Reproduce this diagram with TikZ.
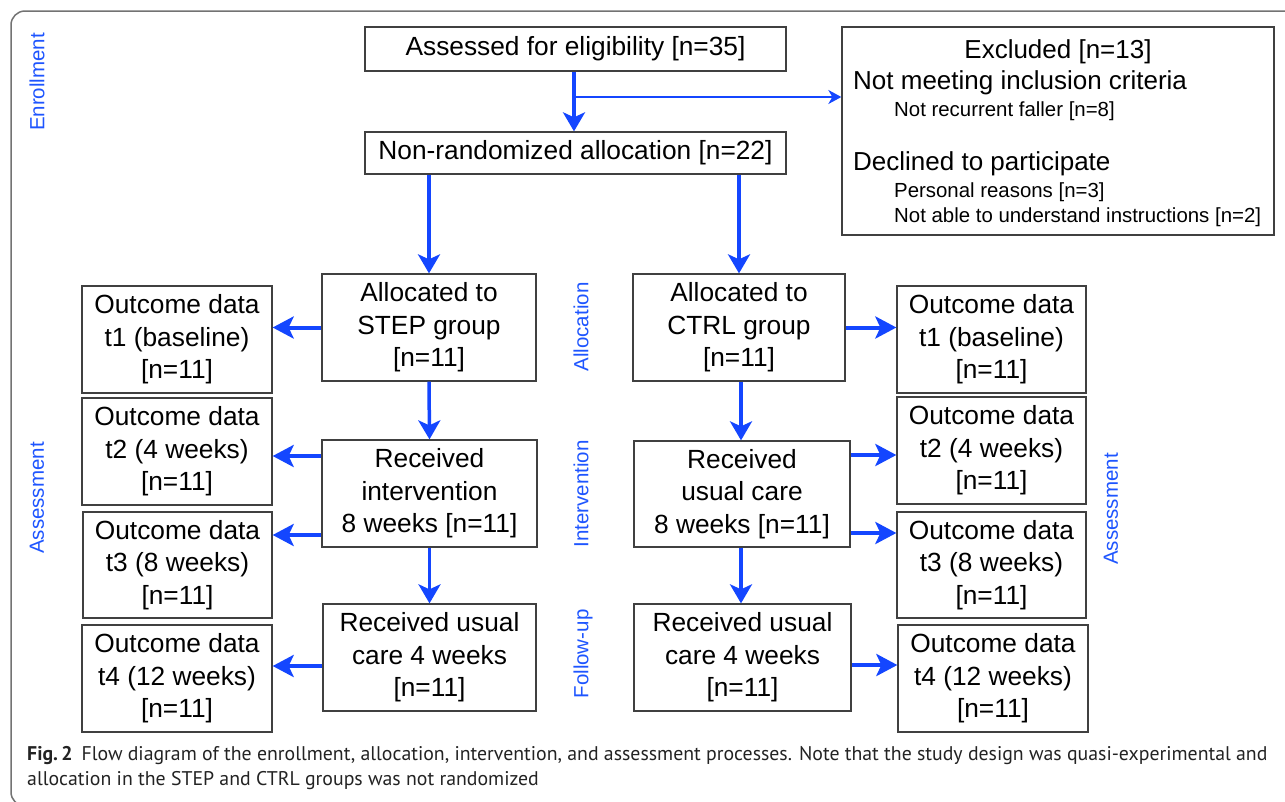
\documentclass[tikz,border=0pt]{standalone}
\usepackage{fontspec}
\setmainfont{Liberation Sans}
\newfontfamily\capfont{PT Sans}
\usetikzlibrary{arrows.meta,calc}
\definecolor{arrblue}{RGB}{20,70,255}
\definecolor{lblblue}{RGB}{30,85,255}
\definecolor{boxline}{RGB}{64,64,64}
\definecolor{framegray}{RGB}{115,115,115}
\definecolor{captext}{RGB}{35,35,35}
\begin{document}
\begin{tikzpicture}[x=1pt,y=-1pt,
  box/.style={draw=boxline,line width=1.3pt,align=center,inner sep=0pt,
    font=\fontsize{26.3}{32.5}\selectfont},
  exitem/.style={anchor=base west,inner sep=0pt,font=\fontsize{26}{30}\selectfont},
  exsub/.style={anchor=base west,inner sep=0pt,font=\fontsize{20.4}{24}\selectfont},
  sectlbl/.style={rotate=90,text=lblblue,inner sep=0pt,font=\fontsize{20.5}{24}\selectfont},
  varr/.style={draw=arrblue,line width=3.5pt,-{Stealth[length=19pt,width=22pt,inset=5pt]}},
  harr/.style={draw=arrblue,line width=4pt,-{Stealth[length=21pt,width=22pt,inset=5pt]}},
  thinarr/.style={draw=arrblue,line width=2pt,-{Stealth[length=13pt,width=14pt,inset=4pt]}},
  captxt/.style={anchor=base west,inner sep=0pt,text=captext,font=\capfont\fontsize{19.8}{25}\selectfont}
]
\useasboundingbox (0,0) rectangle (1285,801);
\clip (0,0) rectangle (1285,801);
\fill[white] (0,0) rectangle (1285,801);
\draw[framegray,line width=1.5pt,rounded corners=14pt] (11,11) rectangle (1310,806);

% boxes
\node[box,minimum width=421pt,minimum height=44pt] (assess) at (575.5,49) {Assessed for eligibility [n=35]};
\node[box,minimum width=421pt,minimum height=42pt] (nonrand) at (575.5,153) {Non-randomized allocation [n=22]};
\node[box,minimum width=432pt,minimum height=208pt] (excl) at (1058,131) {};
\node[exitem,anchor=base] (ex0) at (1058,58) {Excluded [n=13]};
\node[exitem] (ex1) at (853,89) {Not meeting inclusion criteria};
\node[exsub] (ex2) at (894,116) {Not recurrent faller [n=8]};
\node[exitem] (ex3) at (853,170) {Declined to participate};
\node[exsub] (ex4) at (894,197) {Personal reasons [n=3]};
\node[exsub] (ex5) at (894,222) {Not able to understand instructions [n=2]};

\node[box,minimum width=214pt,minimum height=107pt] (stepA) at (429,327.5) {Allocated to\\STEP group\\{}[n=11]};
\node[box,minimum width=215pt,minimum height=107pt] (stepI) at (429.5,493.5) {Received\\intervention\\8 weeks [n=11]};
\node[box,minimum width=213pt,minimum height=107pt] (stepF) at (429.5,657.5) {Received usual\\care 4 weeks\\{}[n=11]};

\node[box,minimum width=190pt,minimum height=107pt] (t1L) at (177,339.5) {Outcome data\\t1 (baseline)\\{}[n=11]};
\node[box,minimum width=190pt,minimum height=107pt] (t2L) at (177,451.5) {Outcome data\\t2 (4 weeks)\\{}[n=11]};
\node[box,minimum width=189pt,minimum height=106pt] (t3L) at (177.5,565) {Outcome data\\t3 (8 weeks)\\{}[n=11]};
\node[box,minimum width=190pt,minimum height=107pt] (t4L) at (177,678.5) {Outcome data\\t4 (12 weeks)\\{}[n=11]};

\node[box,minimum width=212pt,minimum height=107pt] (ctrlA) at (739,327.5) {Allocated to\\CTRL group\\{}[n=11]};
\node[box,minimum width=216pt,minimum height=106pt] (ctrlI) at (742,494) {Received\\usual care\\8 weeks [n=11]};
\node[box,minimum width=217pt,minimum height=107pt] (ctrlF) at (742.5,657.5) {Received usual\\care 4 weeks\\{}[n=11]};

\node[box,minimum width=189pt,minimum height=107pt] (t1R) at (991.5,339.5) {Outcome data\\t1 (baseline)\\{}[n=11]};
\node[box,minimum width=189pt,minimum height=107pt] (t2R) at (991.5,450.5) {Outcome data\\t2 (4 weeks)\\{}[n=11]};
\node[box,minimum width=189pt,minimum height=106pt] (t3R) at (991.5,565) {Outcome data\\t3 (8 weeks)\\{}[n=11]};
\node[box,minimum width=190pt,minimum height=107pt] (t4R) at (993,678.5) {Outcome data\\t4 (12 weeks)\\{}[n=11]};

% section labels
\node[sectlbl] (lenr) at (37,82) {Enrollment};
\node[sectlbl] (lassL) at (37,498) {Assessment};
\node[sectlbl] (lall) at (581,327) {Allocation};
\node[sectlbl] (lint) at (581,494) {Intervention};
\node[sectlbl] (lfol) at (583,654) {Follow-up};
\node[sectlbl] (lassR) at (1111,509) {Assessment};

% arrows
\draw[varr] (assess.south -| 574,0) -- (nonrand.north -| 574,0);
\coordinate (br) at (574,97);
\draw[thinarr] (br) -- (br -| excl.west);
\draw[varr] (nonrand.south -| stepA.north) -- (stepA.north);
\draw[varr] (nonrand.south -| ctrlA.north) -- (ctrlA.north);
\draw[varr] (stepA.south) -- (stepI.north);
\draw[varr] (stepI.south) -- (stepF.north);
\draw[varr] (ctrlA.south -| 741,0) -- (ctrlI.north -| 741,0);
\draw[varr] (ctrlI.south -| 741,0) -- (ctrlF.north -| 741,0);

\draw[harr] (stepA.west) -- (stepA.west -| t1L.east);
\draw[harr] ([yshift=37.5pt]stepI.west) coordinate (s2) -- (s2 -| t2L.east);
\draw[harr] ([yshift=-41.5pt]stepI.west) coordinate (s3) -- (s3 -| t3L.east);
\draw[harr] ([yshift=-8.5pt]stepF.west) coordinate (s4) -- (s4 -| t4L.east);

\draw[harr] (ctrlA.east) -- (ctrlA.east -| t1R.west);
\draw[harr] ([yshift=39pt]ctrlI.east) coordinate (c2) -- (c2 -| t2R.west);
\draw[harr] ([yshift=-39pt]ctrlI.east) coordinate (c3) -- (c3 -| t3R.west);
\draw[harr] ([yshift=-7.5pt]ctrlF.east) coordinate (c4) -- (c4 -| t4R.west);

% caption
\node[captxt] (cap1) at (27,760)
  {\textbf{Fig.\,2}\hspace{9pt}Flow diagram of the enrollment, allocation, intervention, and assessment processes. Note that the study design was quasi-experimental and};
\node[captxt] (cap2) at (27,785)
  {allocation in the STEP and CTRL groups was not randomized};
\end{tikzpicture}
\end{document}
